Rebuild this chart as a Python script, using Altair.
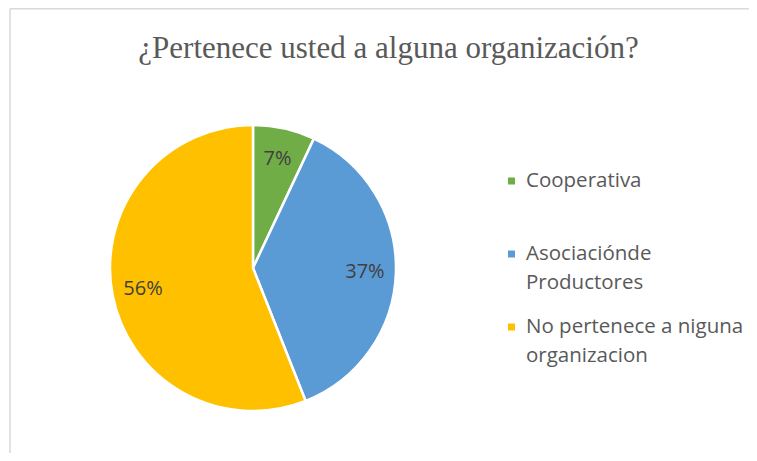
import altair as alt
import pandas as pd

# ---- data ----
categories = ["Cooperativa", "Asociaciónde Productores", "No pertenece a niguna organizacion"]
legend_lines = ["Cooperativa", "Asociaciónde\nProductores", "No pertenece a niguna\norganizacion"]
values = [7, 37, 56]
colors = ["#70AD47", "#5B9BD5", "#FFC000"]
title_text = "¿Pertenece usted a alguna organización?"

df = pd.DataFrame({
    "categoria": categories,
    "leyenda": legend_lines,
    "valor": values,
    "orden": list(range(len(categories))),
})

# ---- layout ----
P = 60
W = 741
H = 445 - P
CX = 245
CY = 268 - 8 - P
R = 143

color_scale = alt.Scale(domain=categories, range=colors)
legend_y = alt.Y(
    "categoria:N",
    scale=alt.Scale(type="point", domain=categories, range=[113, 259], padding=0),
    axis=None,
)

base = alt.Chart(df).encode(
    theta=alt.Theta("valor:Q", stack=True),
    order=alt.Order("orden:Q"),
)

pie = base.mark_arc(stroke="white", strokeWidth=2.5, radius=R, x=CX, y=CY).encode(
    color=alt.Color("categoria:N", scale=color_scale, legend=None),
)

labels = base.mark_text(
    radius=112, x=CX, y=CY, font="Open Sans", fontSize=20, color="#404040"
).transform_joinaggregate(total="sum(valor)").transform_calculate(
    pct="format(datum.valor / datum.total, '.0%')"
).encode(text="pct:N")

legend_sym = alt.Chart(df).mark_square(size=49, opacity=1, filled=True, strokeWidth=0).encode(
    x=alt.value(503.5),
    y=legend_y,
    color=alt.Color("categoria:N", scale=color_scale, legend=None),
)

legend_txt = alt.Chart(df).mark_text(
    align="left", baseline="alphabetic", dy=6, lineBreak="\n", lineHeight=29,
    font="Open Sans", fontSize=20.5, color="#595959",
).encode(
    x=alt.value(518),
    y=legend_y,
    text="leyenda:N",
)

frame_df = pd.DataFrame({"k": [0]})
top_rule = alt.Chart(frame_df).mark_rule(color="#d9d9d9", strokeWidth=1.5).encode(
    x=alt.value(2), x2=alt.value(W + 20), y=alt.value(0.75 - P)
)
left_rule = alt.Chart(frame_df).mark_rule(color="#d9d9d9", strokeWidth=1.5).encode(
    x=alt.value(2), y=alt.value(0.75 - P), y2=alt.value(H + 20)
)

chart = alt.layer(top_rule, left_rule, pie, labels, legend_sym, legend_txt).properties(
    width=W,
    height=H,
    padding={"top": P, "left": 0, "right": 0, "bottom": 0},
    autosize=alt.AutoSizeParams(type="none"),
    title=alt.TitleParams(
        title_text,
        font="Liberation Serif",
        fontSize=31,
        fontWeight="normal",
        color="#595959",
        anchor="middle",
        frame="group",
        baseline="alphabetic",
        offset=10,
        dy=91,
        dx=10,
    ),
).configure_view(stroke=None)

chart.save("out.html", embed_options={"renderer": "svg", "actions": False})
